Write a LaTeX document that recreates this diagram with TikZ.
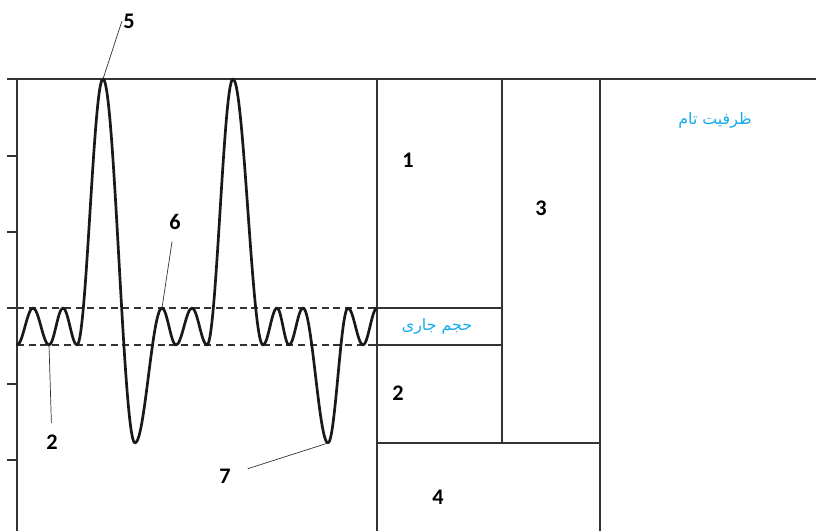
\documentclass[tikz,border=0pt]{standalone}
\usepackage{fontspec}
\setmainfont{Carlito}
\newfontfamily\arabicfont[Script=Arabic]{DejaVu Sans}
\TeXXeTstate=1
\usepackage{xcolor}
\usetikzlibrary{positioning}
\definecolor{lineGray}{RGB}{51,51,51}
\definecolor{capBlue}{RGB}{20,170,235}

\begin{document}
\begin{tikzpicture}[x=0.03cm, y=-0.03cm,
    frame/.style={line width=1.8pt, draw=lineGray},
    level/.style={line width=1.2pt, draw=lineGray, dash pattern=on 6pt off 4pt},
    wave/.style={line width=2.3pt, draw=black!90, line join=round},
    leader/.style={line width=0.6pt, draw=black!80},
    num/.style={font=\fontsize{19}{21}\selectfont\bfseries, inner sep=1pt},
    fa/.style={font=\fontsize{13.5}{16}\selectfont\arabicfont, text=capBlue}
]
    \useasboundingbox (0,0) rectangle (816,531);

    % Axis and ticks
    \draw[frame] (7,79) -- (816,79);
    \draw[frame] (17,79) -- (17,531);
    \foreach \y in {156,232,308,384,460} {
        \draw[frame] (7,\y) -- (17,\y);
    }

    % Storage columns
    \draw[frame] (377,79) -- (377,531);
    \draw[frame] (502,79) -- (502,443);
    \draw[frame] (600,79) -- (600,531);
    \draw[frame] (377,308) -- (502,308);
    \draw[frame] (377,345) -- (502,345);
    \draw[frame] (377,443) -- (600,443);

    % Normal band
    \draw[level] (17,308) -- (377,308);
    \draw[level] (17,345) -- (377,345);

    % Wave
    \draw[wave] (17,345)
        foreach \x/\y [remember=\x as \lx (initially 17), remember=\y as \ly (initially 345)]
        in {33/308, 49/345, 63/308, 77/345, 103/79, 135/443, 162/308, 176/345, 192/308,
            207/345, 233/79, 263/345, 277/308, 289/345, 303/308, 328/443, 348/308,
            363/345, 377/308}
        { cos ({(\lx+\x)/2},{(\ly+\y)/2}) sin (\x,\y) };

    \coordinate (crest5) at (103,79);
    \coordinate (crest6) at (162,308);
    \coordinate (trough2) at (49,345);
    \coordinate (trough7) at (328,443);

    % Labels
    \node[num] (lab5) at (129,21) {5};
    \node[num] (lab6) at (175,222) {6};
    \node[num] (lab2) at (52,442) {2};
    \node[num] (lab7) at (225,476) {7};
    \draw[leader] (crest5) -- (lab5.west);
    \draw[leader, shorten >=9pt] (crest6) -- (lab6);
    \draw[leader, shorten >=9pt] (trough2) -- (lab2);
    \draw[leader, shorten >=14pt] (trough7) -- (lab7);

    \node[num] (cell1) at (408,160) {1};
    \node[num] (cell3) at (541,208) {3};
    \node[num] (cell2) at (398,393) {2};
    \node[num] (cell4) at (438,497) {4};

    \node[fa] (fullcap) at (715,120) {\beginR ظرفیت تام\endR};
    \node[fa] (curvol) at (437,326) {\beginR حجم جاری\endR};
\end{tikzpicture}
\end{document}
